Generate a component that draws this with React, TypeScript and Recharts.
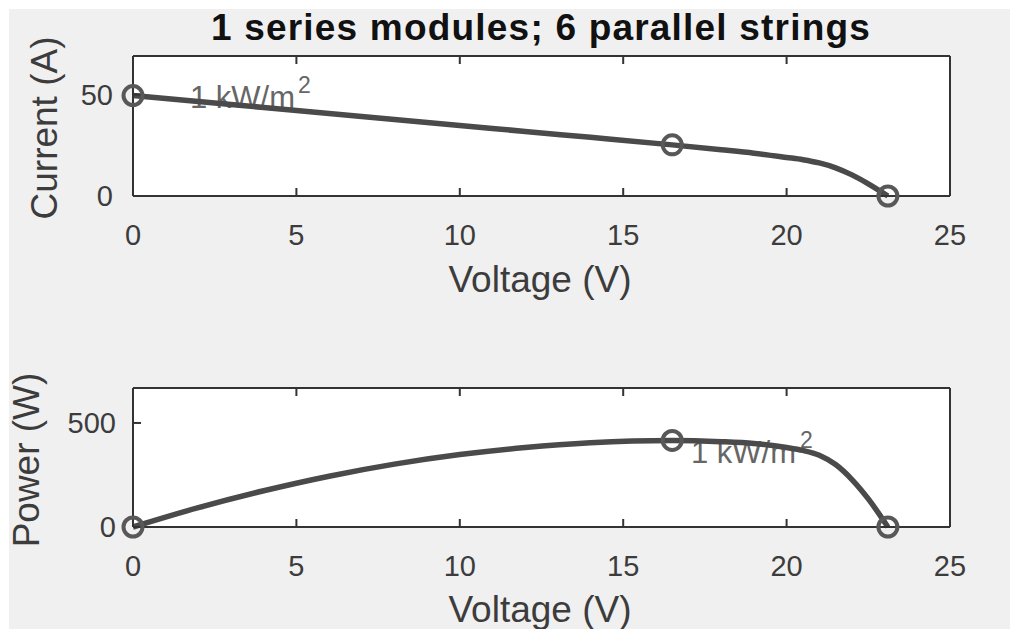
import React from 'react'
import { LineChart, Line, XAxis, YAxis } from 'recharts'

// I-V / P-V readings
const voltage = [0, 2, 4, 6, 8, 10, 12, 14, 16.5, 18, 19, 20, 20.5, 21, 21.5, 22, 22.5, 23.1]
const current = [49.5, 46.6, 43.6, 40.7, 37.7, 34.8, 31.8, 28.9, 25.2, 22.8, 21.1, 19.0, 17.9, 16.3, 13.9, 10.4, 6.0, 0]
const power = [0, 93, 174, 244, 302, 348, 382, 405, 416, 410, 401, 382, 368, 345, 300, 228, 135, 0]
const markedVoltages = [0, 16.5, 23.1]

const xTicks = [0, 5, 10, 15, 20, 25]
const currentTicks = [0, 50]
const powerTicks = [0, 500]

const title = '1 series modules; 6 parallel strings'
const irradiance = '1 kW/m'

const font = '"Liberation Sans", Arial, sans-serif'
const axisColor = '#333'
const textColor = '#3c3c3c'

const rows = voltage.map((v, idx) => ({
  v,
  i: current[idx],
  p: power[idx],
  mi: markedVoltages.includes(v) ? current[idx] : null,
  mp: markedVoltages.includes(v) ? power[idx] : null,
}))

interface PanelProps {
  yKey: 'i' | 'p'
  markKey: 'mi' | 'mp'
  yMax: number
  yTicks: number[]
  top: number
  bottom: number
  yTickMargin: number
}

function Panel({ yKey, markKey, yMax, yTicks, top, bottom, yTickMargin }: PanelProps) {
  const axisLine = { stroke: axisColor, strokeWidth: 2 }
  const tickLine = { stroke: axisColor, strokeWidth: 2 }
  // axes take 1px each, margins are trimmed to keep the box at 133..950
  return (
    <LineChart
      width={1010}
      height={629}
      data={rows}
      margin={{ top: top - 1, right: 59, bottom: 629 - bottom - 1, left: 132 }}
    >
      <XAxis
        dataKey="v"
        type="number"
        domain={[0, 25]}
        ticks={xTicks}
        interval={0}
        height={1}
        tickSize={-8}
        tickMargin={36}
        axisLine={axisLine}
        tickLine={tickLine}
        tick={{ fill: textColor, fontSize: 29, fontFamily: font }}
      />
      <XAxis
        xAxisId="top"
        orientation="top"
        dataKey="v"
        type="number"
        domain={[0, 25]}
        ticks={xTicks}
        interval={0}
        height={1}
        tickSize={-8}
        axisLine={axisLine}
        tickLine={tickLine}
        tickFormatter={() => ''}
      />
      <YAxis
        type="number"
        domain={[0, yMax]}
        ticks={yTicks}
        interval={0}
        width={1}
        tickSize={-8}
        tickMargin={yTickMargin}
        axisLine={axisLine}
        tickLine={tickLine}
        tick={{ fill: textColor, fontSize: 29, fontFamily: font }}
      />
      <YAxis
        yAxisId="right"
        orientation="right"
        type="number"
        domain={[0, yMax]}
        ticks={yTicks}
        interval={0}
        width={1}
        tickSize={-8}
        axisLine={axisLine}
        tickLine={tickLine}
        tickFormatter={() => ''}
      />
      <Line
        type="monotone"
        dataKey={yKey}
        stroke="#4a4a4a"
        strokeWidth={5.5}
        dot={false}
        activeDot={false}
        isAnimationActive={false}
      />
      <Line
        dataKey={markKey}
        stroke="none"
        dot={{ r: 9.5, stroke: '#585858', strokeWidth: 4, fill: 'none' }}
        activeDot={false}
        isAnimationActive={false}
      />
    </LineChart>
  )
}

export default function App() {
  return (
    <div style={{ position: 'absolute', left: 0, top: 0, width: 1010, height: 629, background: '#fff', overflow: 'hidden' }}>
      <svg width={1010} height={629} style={{ position: 'absolute', left: 0, top: 0 }}>
        <rect x={9} y={9} width={1001} height={620} fill="#f0f0f0" />
        <rect x={133} y={56} width={817} height={140} fill="#fff" />
        <rect x={133} y={388} width={817} height={139} fill="#fff" />
        <text x={541} y={40} textAnchor="middle" fontFamily={font} fontWeight="bold" fontSize={37} letterSpacing={1.2} fill="#111">
          {title}
        </text>
        <text x={190} y={108} fontFamily={font} fontSize={31} fill="#666">
          {irradiance}
          <tspan dx={3} dy={-15} fontSize={23}>2</tspan>
        </text>
        <text x={691} y={463} fontFamily={font} fontSize={31} fill="#666">
          {irradiance}
          <tspan dx={4} dy={-15} fontSize={23}>2</tspan>
        </text>
        <text x={540} y={292} textAnchor="middle" fontFamily={font} fontSize={37} fill={textColor}>Voltage (V)</text>
        <text x={540} y={622} textAnchor="middle" fontFamily={font} fontSize={37} fill={textColor}>Voltage (V)</text>
        <text transform="translate(57,128) rotate(-90)" textAnchor="middle" fontFamily={font} fontSize={37} fill={textColor}>Current (A)</text>
        <text transform="translate(39,460) rotate(-90)" textAnchor="middle" fontFamily={font} fontSize={37} fill={textColor}>Power (W)</text>
      </svg>
      <div style={{ position: 'absolute', left: 0, top: 0 }}>
        <Panel yKey="i" markKey="mi" yMax={69} yTicks={currentTicks} top={56} bottom={196} yTickMargin={28} />
      </div>
      <div style={{ position: 'absolute', left: 0, top: 0 }}>
        <Panel yKey="p" markKey="mp" yMax={668} yTicks={powerTicks} top={388} bottom={527} yTickMargin={25} />
      </div>
    </div>
  )
}
